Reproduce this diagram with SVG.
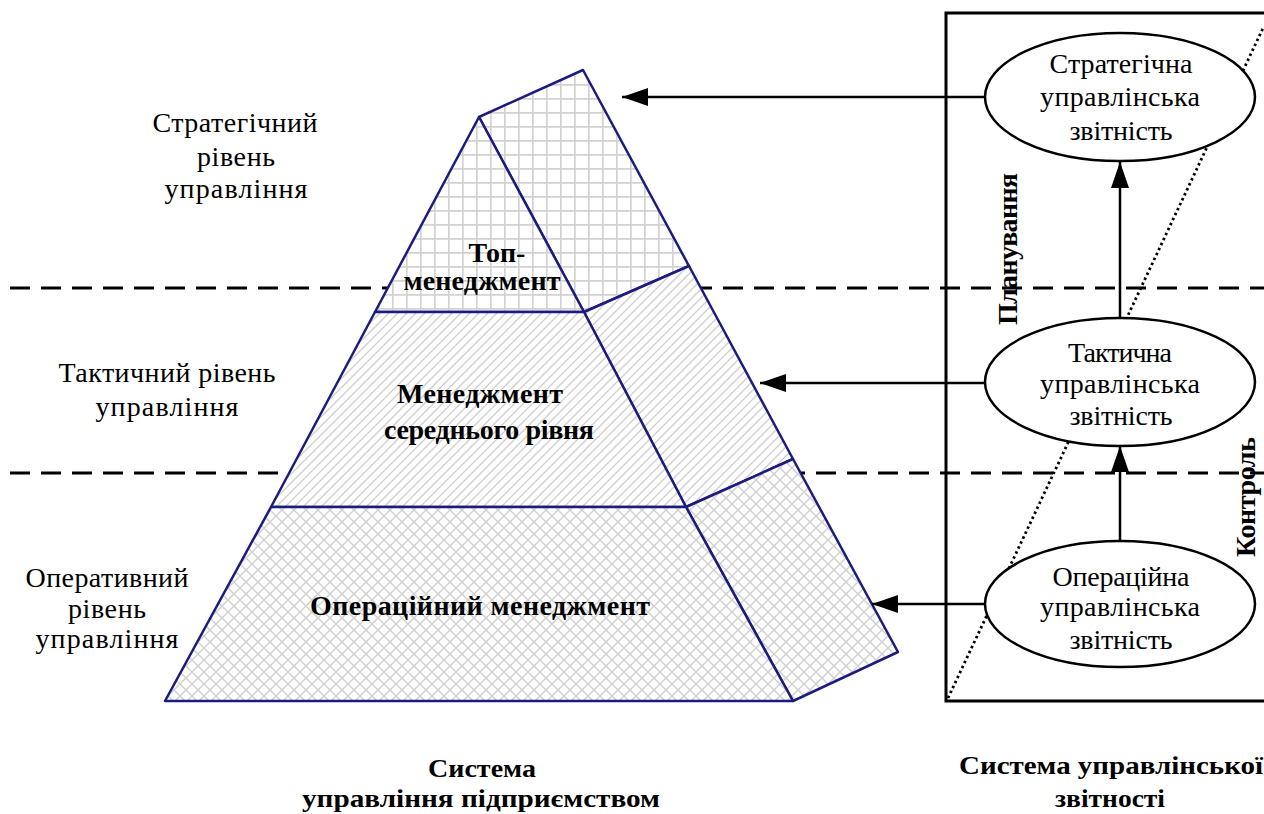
<svg xmlns="http://www.w3.org/2000/svg" width="1264" height="814" viewBox="0 0 1264 814">
<defs>
  <pattern id="grid" patternUnits="userSpaceOnUse" width="14" height="14">
    <rect width="14" height="14" fill="#fff"/>
    <path d="M0,0.75 H14 M0.75,0 V14" stroke="#d2d2d2" stroke-width="1.8" fill="none"/>
  </pattern>
  <pattern id="diag" patternUnits="userSpaceOnUse" width="9" height="9">
    <rect width="9" height="9" fill="#fff"/>
    <path d="M-2,11 L11,-2 M-2,2 L2,-2 M7,11 L11,7" stroke="#d0d0d0" stroke-width="1.4" fill="none"/>
  </pattern>
  <pattern id="cross" patternUnits="userSpaceOnUse" width="12" height="12">
    <rect width="12" height="12" fill="#fff"/>
    <path d="M0,0 L12,12 M12,0 L0,12" stroke="#d0d0d0" stroke-width="1.4" fill="none"/>
  </pattern>
  <marker id="ah" viewBox="0 0 26 18" refX="26" refY="9" markerWidth="26" markerHeight="18" markerUnits="userSpaceOnUse" orient="auto">
    <path d="M0,0 L26,9 L0,18 z" fill="#000"/>
  </marker>
  <style>
    .pyr { stroke: #1c1c7e; stroke-width: 2.5; stroke-linejoin: round; }
    .dash { stroke: #000; stroke-width: 3; stroke-dasharray: 20 11; fill: none; }
    .conn { stroke: #000; stroke-width: 2.5; fill: none; }
    .ell { fill: #fff; stroke: #000; stroke-width: 2.5; }
    .t { font-family: "Liberation Serif", "Times New Roman", serif; font-size: 28px; fill: #000; text-anchor: middle; }
    .b { font-family: "Liberation Serif", "Times New Roman", serif; font-size: 28px; font-weight: bold; fill: #000; text-anchor: middle; }
    .cap { font-size: 26px; }
  </style>
</defs>
<rect width="1264" height="814" fill="#fff"/>

<g id="levels">
  <line class="dash" x1="10" y1="288" x2="1264" y2="288"/>
  <line class="dash" x1="10" y1="473" x2="1264" y2="473"/>
  <text class="t" x="235" y="132" textLength="165">Стратегічний</text>
  <text class="t" x="236" y="166" textLength="78">рівень</text>
  <text class="t" x="236" y="198" textLength="143">управління</text>
  <text class="t" x="167" y="382" textLength="217">Тактичний рівень</text>
  <text class="t" x="167" y="416" textLength="143">управління</text>
  <text class="t" x="107" y="587" textLength="163">Оперативний</text>
  <text class="t" x="107" y="618" textLength="78">рівень</text>
  <text class="t" x="107" y="648" textLength="143">управління</text>
</g>

<g id="pyramid">
  <polygon class="pyr" fill="url(#grid)" points="479,117 583,70 689,266 584,312"/>
  <polygon class="pyr" fill="url(#grid)" points="479,117 375,312 584,312"/>
  <polygon class="pyr" fill="url(#diag)" points="584,312 689,266 793,459 686,507"/>
  <polygon class="pyr" fill="url(#diag)" points="375,312 584,312 686,507 271,507"/>
  <polygon class="pyr" fill="url(#cross)" points="686,507 793,459 898,652 793,701"/>
  <polygon class="pyr" fill="url(#cross)" points="271,507 686,507 793,701 165,701"/>
  <text class="b" x="497" y="262">Топ-</text>
  <text class="b" x="482" y="290" textLength="157">менеджмент</text>
  <text class="b" x="480" y="403" textLength="166">Менеджмент</text>
  <text class="b" x="489" y="439" textLength="210">середнього рівня</text>
  <text class="b" x="480" y="615" textLength="340">Операційний менеджмент</text>
</g>

<g id="report-system">
  <path d="M1264,13 H946 V701 H1264" fill="none" stroke="#000" stroke-width="3"/>
  <line x1="948" y1="698" x2="1264" y2="26" stroke="#000" stroke-width="2.8" stroke-dasharray="2.5 3"/>
  <text class="b" transform="translate(1017,249) rotate(-90)" textLength="152">Планування</text>
  <text class="b" transform="translate(1255,497) rotate(-90)" textLength="120">Контроль</text>
</g>

<g id="connectors">
  <line class="conn" x1="985" y1="97" x2="622" y2="97" marker-end="url(#ah)"/>
  <line class="conn" x1="985" y1="383" x2="760" y2="383" marker-end="url(#ah)"/>
  <line class="conn" x1="985" y1="604" x2="872" y2="604" marker-end="url(#ah)"/>
  <line class="conn" x1="1120" y1="318" x2="1120" y2="162" marker-end="url(#ah)"/>
  <line class="conn" x1="1120" y1="541" x2="1120" y2="446" marker-end="url(#ah)"/>
</g>

<g id="strategic-report">
  <ellipse class="ell" cx="1120" cy="97" rx="135" ry="64"/>
  <text class="t" x="1121" y="73" textLength="143">Стратегічна</text>
  <text class="t" x="1120" y="106" textLength="160">управлінська</text>
  <text class="t" x="1121" y="140" textLength="103">звітність</text>
</g>
<g id="tactical-report">
  <ellipse class="ell" cx="1120" cy="382" rx="135" ry="64"/>
  <text class="t" x="1120" y="362" textLength="104">Тактична</text>
  <text class="t" x="1120" y="393" textLength="160">управлінська</text>
  <text class="t" x="1121" y="425" textLength="103">звітність</text>
</g>
<g id="operational-report">
  <ellipse class="ell" cx="1120" cy="604" rx="135" ry="63"/>
  <text class="t" x="1121" y="586" textLength="137">Операційна</text>
  <text class="t" x="1120" y="616" textLength="160">управлінська</text>
  <text class="t" x="1121" y="649" textLength="103">звітність</text>
</g>

<g id="captions">
  <text class="b cap" x="482" y="777" textLength="108" lengthAdjust="spacingAndGlyphs">Система</text>
  <text class="b cap" x="481" y="807" textLength="358" lengthAdjust="spacingAndGlyphs">управління підприємством</text>
  <text class="b cap" x="1111" y="774" textLength="304" lengthAdjust="spacingAndGlyphs">Система управлінської</text>
  <text class="b cap" x="1110" y="807" textLength="110" lengthAdjust="spacingAndGlyphs">звітності</text>
</g>
</svg>
